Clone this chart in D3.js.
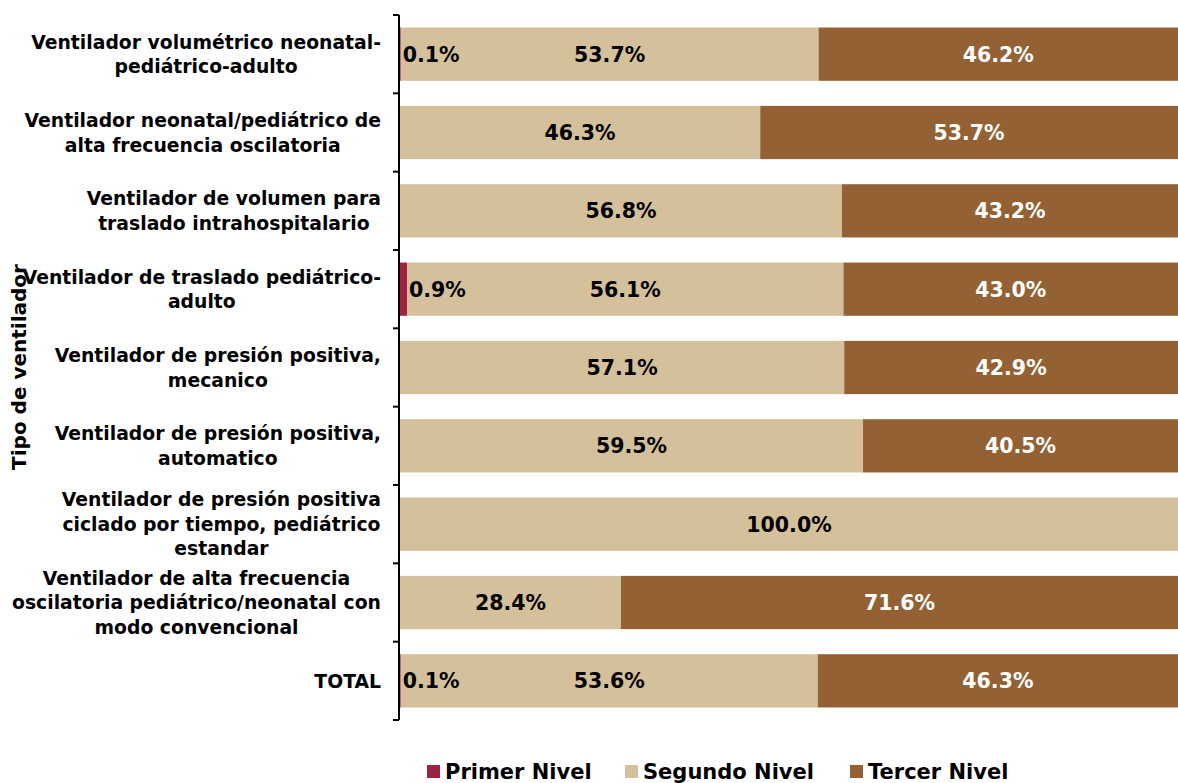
<!DOCTYPE html>
<html>
<head>
<meta charset="utf-8">
<script src="https://cdn.jsdelivr.net/npm/d3@7"></script>
<style>
  body { margin: 0; background: #fff; }
  text { font-family: "DejaVu Sans", sans-serif; font-weight: bold; }
</style>
</head>
<body>
<div id="chart"></div>
<script>
// categories (label lines) and values per level, in %
var categories = [
  ["Ventilador volumétrico neonatal-", "pediátrico-adulto"],
  ["Ventilador neonatal/pediátrico de", "alta frecuencia oscilatoria"],
  ["Ventilador de volumen para", "traslado intrahospitalario"],
  ["Ventilador de traslado pediátrico-", "adulto"],
  ["Ventilador de presión positiva,", "mecanico"],
  ["Ventilador de presión positiva,", "automatico"],
  ["Ventilador de presión positiva", "ciclado por tiempo, pediátrico", "estandar"],
  ["Ventilador de alta frecuencia", "oscilatoria pediátrico/neonatal con", "modo convencional"],
  ["TOTAL"]
];
var primerNivel  = [0.1, 0, 0, 0.9, 0, 0, 0, 0, 0.1];
var segundoNivel = [53.7, 46.3, 56.8, 56.1, 57.1, 59.5, 100.0, 28.4, 53.6];
var tercerNivel  = [46.2, 53.7, 43.2, 43.0, 42.9, 40.5, 0, 71.6, 46.3];

var seriesNames = ["Primer Nivel", "Segundo Nivel", "Tercer Nivel"];
var seriesColors = ["#9f2241", "#d4c19c", "#936134"];
var labelColors = ["#000", "#000", "#fff"];

var svgWidth = 1178;
var svgHeight = 783;
var margin = { top: 15, right: 0, bottom: 63, left: 399 };
var width = svgWidth - margin.left - margin.right;
var height = svgHeight - margin.top - margin.bottom;

var svg = d3.select("#chart")
  .append("svg")
  .attr("width", svgWidth)
  .attr("height", svgHeight);

var chartGroup = svg.append("g")
  .attr("transform", `translate(${margin.left}, ${margin.top})`);

var rows = categories.map(function(c, i) {
  return { idx: i, p: primerNivel[i], s: segundoNivel[i], t: tercerNivel[i] };
});

var stack = d3.stack().keys(["p", "s", "t"]);
var stacked = stack(rows);

var xScale = d3.scaleLinear().domain([0, 100]).range([1, width]);
var yScale = d3.scaleBand()
  .domain(d3.range(categories.length))
  .range([0, height])
  .paddingInner(0.32)
  .paddingOuter(0.16);

// bars
var layers = chartGroup.selectAll("g.layer")
  .data(stacked)
  .enter()
  .append("g")
  .attr("class", "layer")
  .attr("fill", (d, i) => seriesColors[i]);

layers.selectAll("rect")
  .data(d => d)
  .enter()
  .append("rect")
  .attr("x", d => xScale(d[0]))
  .attr("y", d => yScale(d.data.idx))
  .attr("width", d => xScale(d[1]) - xScale(d[0]))
  .attr("height", yScale.bandwidth());

// value labels
stacked.forEach(function(layer, li) {
  chartGroup.selectAll("text.v" + li)
    .data(layer.filter(d => d[1] - d[0] > 0))
    .enter()
    .append("text")
    .attr("class", "v" + li)
    .attr("x", function(d) {
      if (li === 0) return xScale(d[1]) + 2;
      return (xScale(d[0]) + xScale(d[1])) / 2;
    })
    .attr("y", d => yScale(d.data.idx) + yScale.bandwidth() / 2)
    .attr("dy", "0.36em")
    .attr("text-anchor", li === 0 ? "start" : "middle")
    .attr("fill", labelColors[li])
    .style("font-size", "20.5px")
    .text(d => (d[1] - d[0]).toFixed(1) + "%");
});

// y axis with ticks between categories
var axisG = chartGroup.append("g");
axisG.append("line")
  .attr("x1", 0).attr("x2", 0)
  .attr("y1", 0).attr("y2", height)
  .attr("stroke", "#000").attr("stroke-width", 2);
var step = yScale.step();
axisG.selectAll("line.tick")
  .data(d3.range(categories.length + 1))
  .enter()
  .append("line")
  .attr("class", "tick")
  .attr("x1", -6).attr("x2", 0)
  .attr("y1", d => d * step).attr("y2", d => d * step)
  .attr("stroke", "#000").attr("stroke-width", 2);

// category labels (centred block, right edge near the axis)
var lineH = 24.5;
categories.forEach(function(lines, i) {
  var cy = yScale(i) + yScale.bandwidth() / 2;
  var t = chartGroup.append("text")
    .attr("text-anchor", "middle")
    .attr("fill", "#000")
    .style("font-size", "18.8px");
  lines.forEach(function(l, j) {
    t.append("tspan")
      .attr("x", 0)
      .attr("y", cy + (j - (lines.length - 1) / 2) * lineH)
      .attr("dy", "0.36em")
      .text(l);
  });
  var maxW = d3.max(t.selectAll("tspan").nodes(), n => n.getComputedTextLength());
  t.selectAll("tspan").attr("x", -18 - maxW / 2);
});

// axis title
svg.append("text")
  .attr("transform", `translate(26, 367) rotate(-90)`)
  .attr("text-anchor", "middle")
  .style("font-size", "20px")
  .text("Tipo de ventilador");

// legend
var legendX = [427, 625, 850];
var legend = svg.selectAll("g.legend")
  .data(seriesNames)
  .enter()
  .append("g")
  .attr("class", "legend")
  .attr("transform", (d, i) => `translate(${legendX[i]}, 765)`);

legend.append("rect")
  .attr("width", 13).attr("height", 13)
  .attr("fill", (d, i) => seriesColors[i]);

legend.append("text")
  .attr("x", 18)
  .attr("y", 14)
  .style("font-size", "21px")
  .text(d => d);
</script>
</body>
</html>
